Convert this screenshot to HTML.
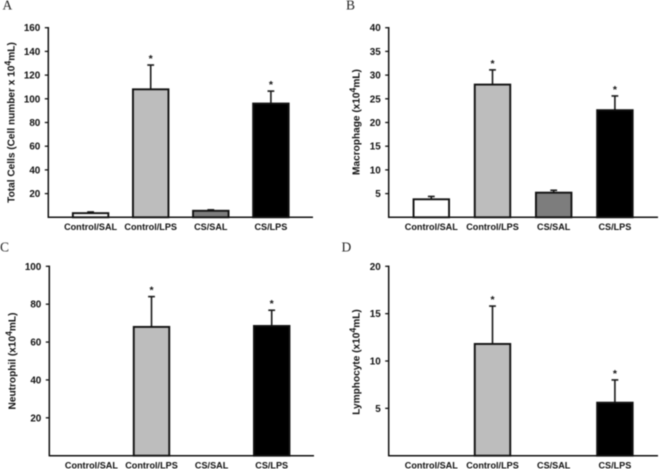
<!DOCTYPE html>
<html>
<head>
<meta charset="utf-8">
<title>Bronchoalveolar cell counts</title>
<style>
html,body{margin:0;padding:0;background:#fff;width:659px;height:469px;overflow:hidden}
svg{display:block;filter:blur(0.4px)}
text{font-family:"Liberation Sans",Arial,sans-serif;fill:#111}
.b{font-weight:bold}
.p{font-family:"Liberation Serif","Times New Roman",serif;font-size:13.5px;fill:#222}
</style>
</head>
<body>
<svg id="fig" xmlns="http://www.w3.org/2000/svg" width="659" height="469" viewBox="0 0 659 469"></svg>
<script>
var categories = ["Control/SAL", "Control/LPS", "CS/SAL", "CS/LPS"];
var barColors = ["#ffffff", "#bdbdbd", "#7d7d7d", "#000000"];

var totalCellsValues = [3.5, 108, 5.5, 96];
var totalCellsErrors = [1, 20.5, 0.8, 10.5];
var totalCellsTicks = [20, 40, 60, 80, 100, 120, 140, 160];
var totalCellsStars = [false, true, false, true];

var macrophageValues = [3.8, 28, 5.2, 22.6];
var macrophageErrors = [0.6, 3.1, 0.5, 3];
var macrophageTicks = [5, 10, 15, 20, 25, 30, 35, 40];
var macrophageStars = [false, true, false, true];

var neutrophilValues = [0, 68, 0, 68.5];
var neutrophilErrors = [0, 16, 0, 8.3];
var neutrophilTicks = [20, 40, 60, 80, 100];
var neutrophilStars = [false, true, false, true];

var lymphocyteValues = [0, 11.8, 0, 5.6];
var lymphocyteErrors = [0, 4, 0, 2.4];
var lymphocyteTicks = [5, 10, 15, 20];
var lymphocyteStars = [false, true, false, true];

var NS = "http://www.w3.org/2000/svg";
var fig = document.getElementById("fig");

function make(tag, attrs, parent, text) {
  var el = document.createElementNS(NS, tag);
  for (var k in attrs) el.setAttribute(k, attrs[k]);
  if (text !== undefined) el.textContent = text;
  parent.appendChild(el);
  return el;
}

function drawPanel(cfg) {
  var g = make("g", {}, fig);
  
  

  var max = cfg.ticks[cfg.ticks.length - 1];
  function y(v) { return cfg.bottom - (v / max) * (cfg.bottom - cfg.top); }
  function x(i) { return cfg.first + cfg.step * i; }

  var letter = make("text", {x: cfg.letterX, y: cfg.letterY, "class": "p"}, g, cfg.letter);
  
  

  var title = make("text", {
    "class": "b", "font-size": cfg.titleSize, "text-anchor": "middle",
    transform: "translate(" + cfg.titleX + "," + cfg.titleY + ") rotate(-90)"
  }, g);
  
  
  make("tspan", {}, title, cfg.titleA);
  make("tspan", {dy: -3.5, "font-size": 8.8}, title, "4");
  make("tspan", {dy: 3.5}, title, "mL)");

  categories.forEach(function (c, i) {
    var v = cfg.values[i], e = cfg.errors[i], cx = x(i), w = 35.5;
    if (v > 0) {
      var err = make("line", {x1: cx, x2: cx, y1: y(v), y2: y(v + e), stroke: "#1a1a1a", "stroke-width": 1.6}, g);
      
      
      var cap = make("line", {x1: cx - 3.4, x2: cx + 3.4, y1: y(v + e), y2: y(v + e), stroke: "#1a1a1a", "stroke-width": 1.6}, g);
      
      
      var bar = make("rect", {
        x: cx - w / 2, y: y(v), width: w, height: cfg.bottom - y(v),
        fill: barColors[i], stroke: "#111", "stroke-width": 1.9
      }, g);
      
      
    }
    if (cfg.stars[i]) {
      var star = make("text", {x: cx, y: y(v + e) - 3, "class": "b", "font-size": 10.5, "text-anchor": "middle"}, g, "*");
      
      
    }
    var label = make("text", {x: cx, y: cfg.bottom + 12.7, "class": "b", "font-size": 9.1, "text-anchor": "middle"}, g, c);
    
    
  });

  var yAxis = make("line", {x1: cfg.axisX, x2: cfg.axisX, y1: cfg.top - 0.7, y2: cfg.bottom + 0.7, stroke: "#111", "stroke-width": 1.5}, g);
  
  
  var xAxis = make("line", {x1: cfg.axisX, x2: cfg.right, y1: cfg.bottom, y2: cfg.bottom, stroke: "#111", "stroke-width": 1.5}, g);
  
  

  cfg.ticks.forEach(function (t) {
    var tick = make("line", {x1: cfg.axisX - 3.5, x2: cfg.axisX, y1: y(t), y2: y(t), stroke: "#111", "stroke-width": 1.3}, g);
    
    
    var lab = make("text", {x: cfg.axisX - 8, y: y(t) + 3.5, "class": "b", "font-size": 9.9, "text-anchor": "end"}, g, String(t));
    
    
  });
}

drawPanel({name: "panel-a-total-cells", letter: "A", letterX: 2.5, letterY: 9.5,
  values: totalCellsValues, errors: totalCellsErrors, ticks: totalCellsTicks, stars: totalCellsStars,
  titleA: "Total Cells (Cell number x 10", titleSize: 10.1, titleX: 14.5, titleY: 122.5,
  axisX: 48.3, right: 313, top: 27.7, bottom: 217.3, first: 90.6, step: 60.1});

drawPanel({name: "panel-b-macrophage", letter: "B", letterX: 346, letterY: 9.5,
  values: macrophageValues, errors: macrophageErrors, ticks: macrophageTicks, stars: macrophageStars,
  titleA: "Macrophage (x10", titleSize: 10.1, titleX: 359.5, titleY: 122,
  axisX: 388.7, right: 658, top: 27.7, bottom: 217.3, first: 431.3, step: 61.2});

drawPanel({name: "panel-c-neutrophil", letter: "C", letterX: 0, letterY: 251.5,
  values: neutrophilValues, errors: neutrophilErrors, ticks: neutrophilTicks, stars: neutrophilStars,
  titleA: "Neutrophil (x10", titleSize: 10.1, titleX: 15.5, titleY: 361,
  axisX: 49.3, right: 314, top: 266.3, bottom: 455.7, first: 91.4, step: 60.1});

drawPanel({name: "panel-d-lymphocyte", letter: "D", letterX: 341.5, letterY: 251.5,
  values: lymphocyteValues, errors: lymphocyteErrors, ticks: lymphocyteTicks, stars: lymphocyteStars,
  titleA: "Lymphocyte (x10", titleSize: 10.1, titleX: 359.5, titleY: 362,
  axisX: 388.7, right: 658, top: 266.3, bottom: 455.7, first: 431.3, step: 61.2});
</script>
</body>
</html>
